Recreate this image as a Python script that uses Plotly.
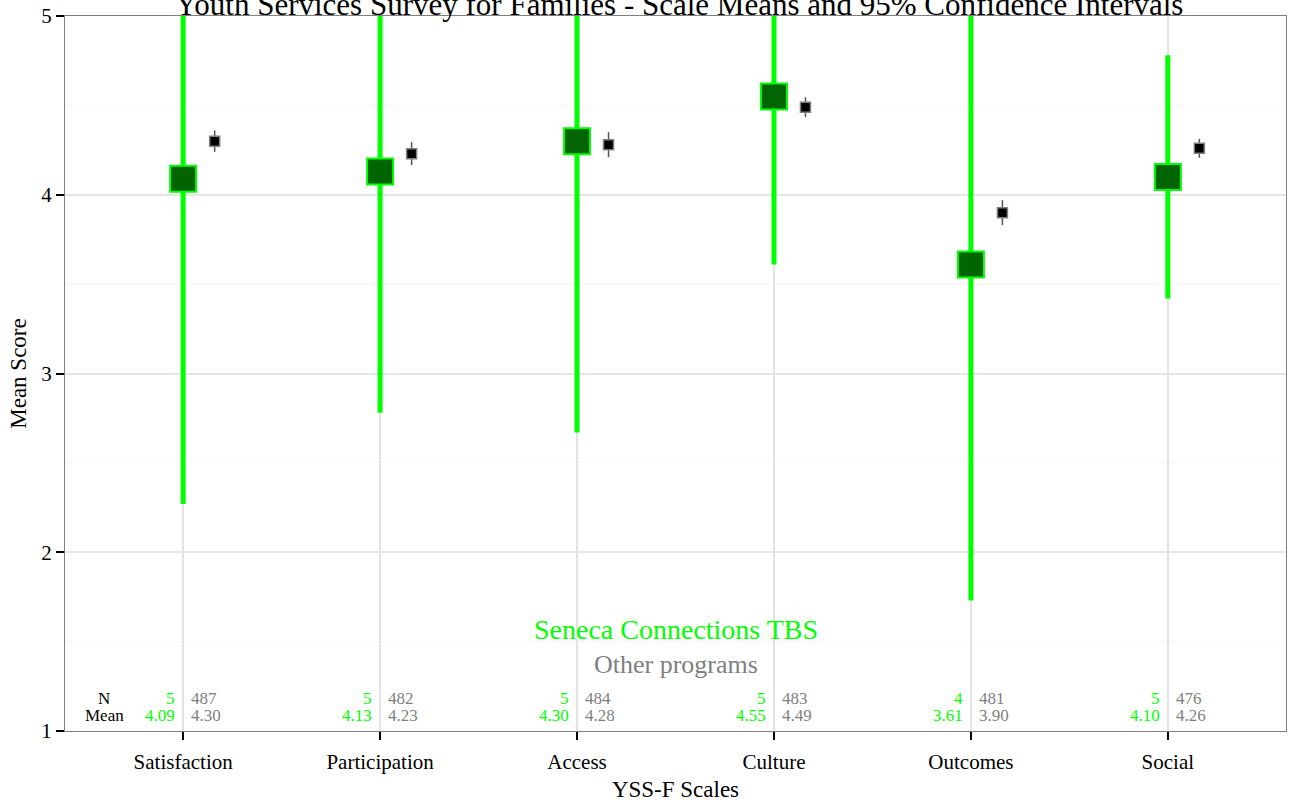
import plotly.graph_objects as go

categories = ["Satisfaction", "Participation", "Access", "Culture", "Outcomes", "Social"]
prog_mean = [4.09, 4.13, 4.30, 4.55, 3.61, 4.10]
prog_ci = [1.82, 1.35, 1.63, 0.94, 1.88, 0.68]
prog_n = [5, 5, 5, 5, 4, 5]
other_mean = [4.30, 4.23, 4.28, 4.49, 3.90, 4.26]
other_ci = [0.06, 0.064, 0.07, 0.056, 0.07, 0.053]
other_n = [487, 482, 484, 483, 481, 476]

FONT = "Liberation Serif"
GREEN = "#00ff00"
DKGREEN = "#006400"
GRAY = "#7f7f7f"

xs = list(range(1, len(categories) + 1))
xo = [x + 0.16 for x in xs]

fig = go.Figure()
fig.add_trace(go.Scatter(
    x=xs, y=prog_mean, mode="markers",
    marker=dict(symbol="square", size=26, color=DKGREEN, line=dict(color=GREEN, width=2)),
    error_y=dict(type="data", array=prog_ci, visible=True, color=GREEN, thickness=5, width=0),
    showlegend=False, hoverinfo="skip",
))
fig.add_trace(go.Scatter(
    x=xo, y=other_mean, mode="markers",
    marker=dict(symbol="square", size=10, color="black", line=dict(color=GRAY, width=1.5)),
    error_y=dict(type="data", array=other_ci, visible=True, color="#555555", thickness=1.5, width=0),
    showlegend=False, hoverinfo="skip",
))

SM = 17
ann = []
ann.append(dict(x=0.6, y=1.18, text="N", showarrow=False, xanchor="center", yanchor="middle",
                font=dict(family=FONT, size=SM, color="black")))
ann.append(dict(x=0.6, y=1.085, text="Mean", showarrow=False, xanchor="center", yanchor="middle",
                font=dict(family=FONT, size=SM, color="black")))
for i, x in enumerate(xs):
    ann.append(dict(x=x - 0.03, y=1.18, text=str(prog_n[i]), showarrow=False, xanchor="right",
                    yanchor="middle", font=dict(family=FONT, size=SM, color=GREEN)))
    ann.append(dict(x=x - 0.03, y=1.085, text=f"{prog_mean[i]:.2f}", showarrow=False, xanchor="right",
                    yanchor="middle", font=dict(family=FONT, size=SM, color=GREEN)))
    ann.append(dict(x=x + 0.03, y=1.18, text=str(other_n[i]), showarrow=False, xanchor="left",
                    yanchor="middle", font=dict(family=FONT, size=SM, color=GRAY)))
    ann.append(dict(x=x + 0.03, y=1.085, text=f"{other_mean[i]:.2f}", showarrow=False, xanchor="left",
                    yanchor="middle", font=dict(family=FONT, size=SM, color=GRAY)))
ann.append(dict(x=3.5, y=1.57, text="Seneca Connections TBS", showarrow=False, xanchor="center",
                yanchor="middle", font=dict(family=FONT, size=28, color=GREEN)))
ann.append(dict(x=3.5, y=1.37, text="Other programs", showarrow=False, xanchor="center",
                yanchor="middle", font=dict(family=FONT, size=26, color=GRAY)))
# chart title (cut at the top edge as in the original)
ann.append(dict(x=0.5025, y=1.016, xref="paper", yref="paper", showarrow=False,
                text="Youth Services Survey for Families - Scale Means and 95% Confidence Intervals",
                xanchor="center", yanchor="middle", font=dict(family=FONT, size=31, color="black")))

fig.update_layout(
    width=1291, height=802,
    margin=dict(l=65, r=4, t=14, b=71),
    paper_bgcolor="white", plot_bgcolor="white",
    font=dict(family=FONT, color="black"),
    annotations=ann,
    xaxis=dict(range=[0.4, 6.6], tickmode="array", tickvals=xs, ticktext=categories,
               showgrid=True, gridcolor="#e3e3e3", gridwidth=1.5, zeroline=False,
               showline=True, linecolor=GRAY, linewidth=1, mirror=True,
               ticks="outside", ticklen=8, tickwidth=2, tickcolor="black",
               ticklabelstandoff=4,
               tickfont=dict(family=FONT, size=21, color="black"),
               title=dict(text="YSS-F Scales", font=dict(family=FONT, size=23, color="black"), standoff=8)),
    yaxis=dict(range=[1, 5], tickmode="array", tickvals=[1, 2, 3, 4, 5],
               showgrid=True, gridcolor="#e5e5e5", gridwidth=1.5, zeroline=False,
               minor=dict(tickvals=[1.5, 2.5, 3.5, 4.5], showgrid=True, gridcolor="#f5f5f5", gridwidth=1, ticks=""),
               showline=True, linecolor=GRAY, linewidth=1, mirror=True,
               ticks="outside", ticklen=8, tickwidth=2, tickcolor="black",
               tickfont=dict(family=FONT, size=21, color="black"),
               title=dict(text="Mean Score", font=dict(family=FONT, size=23, color="black"), standoff=8)),
)

fig.write_html("out.html", config={"displayModeBar": False},
               post_script="document.body.style.margin='0px';")
